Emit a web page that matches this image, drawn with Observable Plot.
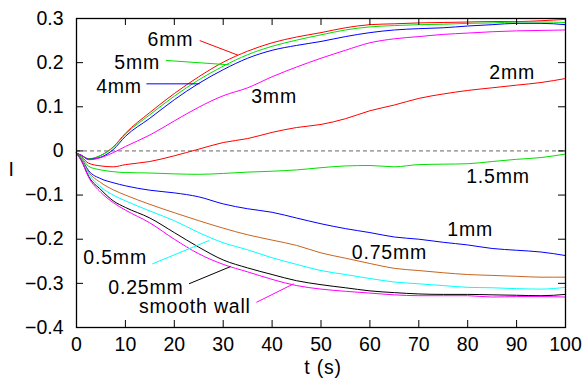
<!DOCTYPE html>
<html>
<head>
<meta charset="utf-8">
<script src="https://cdn.jsdelivr.net/npm/d3@7"></script>
<script src="https://cdn.jsdelivr.net/npm/@observablehq/plot@0.6"></script>
<style>
  html, body { margin: 0; padding: 0; background: #fff; }
  #chart svg { display: block; }
  #chart g[aria-label="text"] text { letter-spacing: 0.8px; }
</style>
</head>
<body>
<div id="chart"></div>
<script>
// ---- data ----
const time = [0, 1, 2.5, 5, 7.5, 10, 15, 20, 25, 30, 35, 40, 45, 50, 55, 60, 65, 70, 75, 80, 85, 90, 95, 100];

const I_6mm   = [-0.005,-0.010,-0.018,-0.010,0.009,0.040,0.087,0.130,0.168,0.201,0.226,0.245,0.258,0.268,0.279,0.286,0.288,0.290,0.291,0.292,0.293,0.293,0.295,0.298];
const I_5mm   = [-0.005,-0.010,-0.018,-0.010,0.008,0.038,0.082,0.124,0.161,0.192,0.218,0.237,0.251,0.263,0.274,0.281,0.284,0.286,0.287,0.289,0.290,0.292,0.292,0.291];
const I_4mm   = [-0.005,-0.010,-0.019,-0.014,0.003,0.033,0.074,0.116,0.153,0.184,0.210,0.228,0.239,0.248,0.259,0.268,0.274,0.277,0.279,0.283,0.286,0.289,0.289,0.286];
const I_3mm   = [-0.005,-0.010,-0.020,-0.015,-0.004,0.010,0.036,0.068,0.099,0.125,0.143,0.168,0.190,0.210,0.228,0.245,0.254,0.259,0.264,0.267,0.270,0.272,0.273,0.274];
const I_2mm   = [-0.005,-0.013,-0.028,-0.034,-0.036,-0.031,-0.024,-0.011,0.004,0.019,0.028,0.042,0.053,0.060,0.073,0.091,0.104,0.119,0.129,0.137,0.143,0.149,0.155,0.164];
const I_1_5mm = [-0.005,-0.015,-0.035,-0.043,-0.047,-0.049,-0.050,-0.052,-0.053,-0.051,-0.048,-0.046,-0.043,-0.038,-0.034,-0.033,-0.036,-0.031,-0.030,-0.029,-0.024,-0.019,-0.015,-0.007];
const I_1mm   = [-0.005,-0.018,-0.045,-0.063,-0.072,-0.079,-0.089,-0.095,-0.104,-0.120,-0.131,-0.139,-0.152,-0.165,-0.176,-0.185,-0.195,-0.200,-0.207,-0.213,-0.221,-0.225,-0.229,-0.237];
const I_075mm = [-0.005,-0.018,-0.048,-0.072,-0.088,-0.100,-0.121,-0.140,-0.158,-0.175,-0.190,-0.202,-0.214,-0.231,-0.243,-0.255,-0.266,-0.271,-0.276,-0.280,-0.282,-0.284,-0.286,-0.286];
const I_05mm  = [-0.005,-0.020,-0.052,-0.082,-0.100,-0.113,-0.136,-0.158,-0.185,-0.208,-0.224,-0.242,-0.257,-0.271,-0.280,-0.289,-0.297,-0.301,-0.305,-0.309,-0.310,-0.312,-0.313,-0.309];
const I_025mm = [-0.005,-0.022,-0.058,-0.088,-0.113,-0.128,-0.152,-0.185,-0.218,-0.247,-0.265,-0.280,-0.294,-0.303,-0.310,-0.317,-0.321,-0.324,-0.325,-0.325,-0.326,-0.327,-0.328,-0.325];
const I_smooth= [-0.005,-0.022,-0.060,-0.094,-0.117,-0.134,-0.163,-0.200,-0.233,-0.257,-0.274,-0.291,-0.305,-0.313,-0.318,-0.322,-0.326,-0.328,-0.328,-0.328,-0.331,-0.330,-0.330,-0.331];

const seriesNames  = ["6mm","5mm","4mm","3mm","2mm","1.5mm","1mm","0.75mm","0.5mm","0.25mm","smooth wall"];
const seriesValues = [I_6mm, I_5mm, I_4mm, I_3mm, I_2mm, I_1_5mm, I_1mm, I_075mm, I_05mm, I_025mm, I_smooth];
const seriesColors = ["#ff0000","#00e000","#0000ff","#ff00ff","#ff0000","#00e000","#0000ff","#c8641e","#00ffff","#000000","#ff00ff"];

// label positions (data units) and leader lines
const labelText = ["6mm","5mm","4mm","3mm","2mm","1.5mm","1mm","0.75mm","0.5mm","0.25mm","smooth wall"];
const labelT    = [19.2, 12.4, 8.7, 40.4, 89.1, 86.2, 80.5, 64.0, 7.9, 14.2, 24.2];
const labelI    = [0.252, 0.200, 0.146, 0.123, 0.178, -0.058, -0.178, -0.230, -0.241, -0.309, -0.352];

const leaderSeries = ["6mm","5mm","4mm","0.5mm","0.25mm","smooth wall"];
const leaderT1 = [25.2, 18.3, 14.3, 15.5, 23.0, 36.8];
const leaderI1 = [0.250, 0.205, 0.152, -0.256, -0.301, -0.343];
const leaderT2 = [33.0, 31.3, 25.2, 27.1, 31.5, 44.4];
const leaderI2 = [0.217, 0.195, 0.152, -0.203, -0.262, -0.301];

const xTicks = [0, 10, 20, 30, 40, 50, 60, 70, 80, 90, 100];
const yTicks = [-0.4, -0.3, -0.2, -0.1, 0, 0.1, 0.2, 0.3];

// ---- build tables ----
const rows = [];
seriesNames.forEach((name, k) => {
  time.forEach((t, i) => rows.push({series: name, t, I: seriesValues[k][i]}));
});
const labels = labelText.map((s, i) => ({text: s, t: labelT[i], I: labelI[i]}));
const leaders = leaderSeries.map((s, i) => ({series: s, t1: leaderT1[i], i1: leaderI1[i], t2: leaderT2[i], i2: leaderI2[i]}));

const W = 587, H = 379;
const mL = 76, mR = 22, mT = 18, mB = 52;
const innerW = W - mL - mR, innerH = H - mT - mB;
const tick = 7;

const chart = Plot.plot({
  width: W, height: H,
  marginLeft: mL, marginRight: mR, marginTop: mT, marginBottom: mB,
  style: {fontFamily: "'Liberation Sans', Arial, Helvetica, sans-serif", fontSize: "19.5px", background: "#fff", color: "#000"},
  x: {domain: [0, 100]},
  y: {domain: [-0.4, 0.3]},
  color: {domain: seriesNames, range: seriesColors},
  marks: [
    Plot.ruleY([0], {stroke: "#666", strokeWidth: 1, strokeDasharray: "4,3"}),
    Plot.line(rows, {x: "t", y: "I", z: "series", stroke: "series", strokeWidth: 1, curve: "monotone-x"}),
    Plot.link(leaders, {x1: "t1", y1: "i1", x2: "t2", y2: "i2", stroke: "series", strokeWidth: 1}),
    Plot.text(labels, {x: "t", y: "I", text: "text", textAnchor: "middle", lineAnchor: "middle", fill: "#000"}),
    // inward ticks on all four sides
    Plot.tickX(xTicks, {x: d => d, insetTop: innerH - tick, stroke: "#000"}),
    Plot.tickX(xTicks, {x: d => d, insetBottom: innerH - tick, stroke: "#000"}),
    Plot.tickY(yTicks, {y: d => d, insetRight: innerW - tick, stroke: "#000"}),
    Plot.tickY(yTicks, {y: d => d, insetLeft: innerW - tick, stroke: "#000"}),
    Plot.axisX(xTicks, {tickSize: 0, tickPadding: 10, label: null}),
    Plot.axisY(yTicks, {tickSize: 0, tickPadding: 13, tickFormat: d3.format("~g"), label: null}),
    Plot.frame({stroke: "#000", strokeWidth: 1.3}),
    Plot.text(["I"], {frameAnchor: "left", dx: -65, dy: -3, textAnchor: "middle", lineAnchor: "middle"}),
    Plot.text(["t (s)"], {frameAnchor: "bottom", dx: 2, dy: 40, textAnchor: "middle", lineAnchor: "middle"})
  ]
});
document.getElementById("chart").appendChild(chart);
</script>
</body>
</html>
